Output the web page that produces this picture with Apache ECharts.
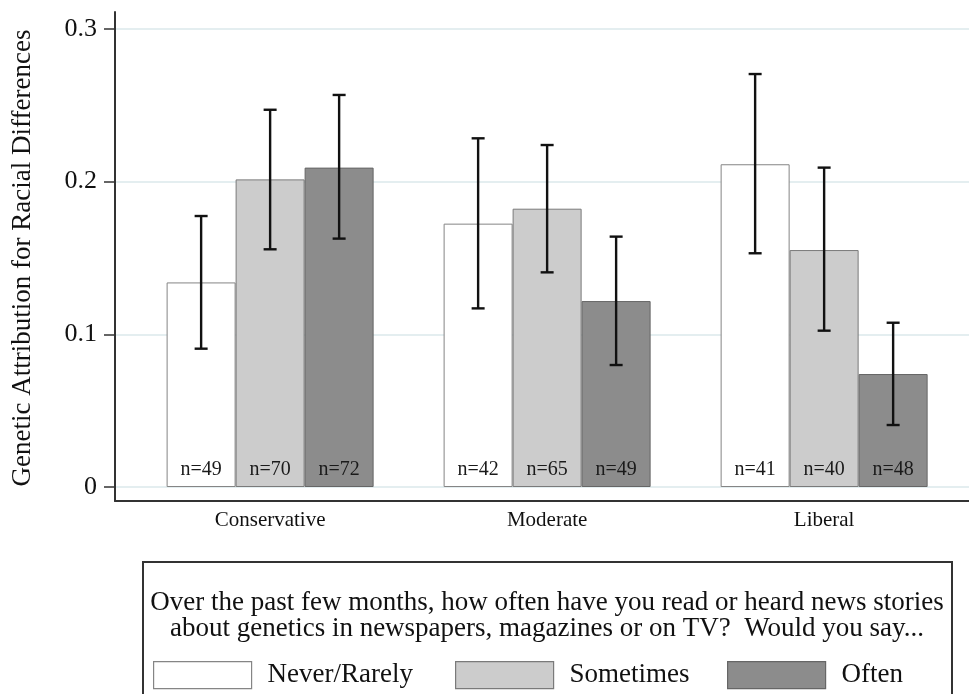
<!DOCTYPE html>
<html>
<head>
<meta charset="utf-8">
<script src="https://cdn.jsdelivr.net/npm/echarts@6/dist/echarts.min.js"></script>
<style>html,body{margin:0;padding:0;background:#fff}#c{width:969px;height:694px}</style>
</head>
<body>
<div id="c"></div>
<script>
// ---- data ----
var categories = ['Conservative', 'Moderate', 'Liberal'];
var groups = ['Never/Rarely', 'Sometimes', 'Often'];
var yTicks = [0, 0.1, 0.2, 0.3];

var neverMean = [0.134, 0.1725, 0.2114];
var neverLow  = [0.0906, 0.1170, 0.1531];
var neverHigh = [0.1775, 0.2284, 0.2705];
var neverN    = [49, 42, 41];

var sometimesMean = [0.2015, 0.1823, 0.1552];
var sometimesLow  = [0.1557, 0.1406, 0.1024];
var sometimesHigh = [0.2471, 0.2240, 0.2092];
var sometimesN    = [70, 65, 40];

var oftenMean = [0.2092, 0.1218, 0.0740];
var oftenLow  = [0.1627, 0.0799, 0.0406];
var oftenHigh = [0.2568, 0.1640, 0.1076];
var oftenN    = [72, 49, 48];

var questionText = 'Over the past few months, how often have you read or heard news stories\nabout genetics in newspapers, magazines or on TV?  Would you say...';
var yTitle = 'Genetic Attribution for Racial Differences';

// ---- styling ----
var FONT = "'Liberation Serif', 'DejaVu Serif', serif";
var BAR_W = 69;
var X_MIN = 0.44, X_MAX = 3.523;
var fills = ['#ffffff', '#cccccc', '#8c8c8c'];
var borders = ['#858585', '#7a7a7a', '#666666'];

var means = [neverMean, sometimesMean, oftenMean];
var lows = [neverLow, sometimesLow, oftenLow];
var highs = [neverHigh, sometimesHigh, oftenHigh];
var ns = [neverN, sometimesN, oftenN];

var series = [];
groups.forEach(function (g, k) {
  series.push({
    name: g,
    type: 'bar',
    xAxisIndex: 0, yAxisIndex: 0,
    barWidth: BAR_W,
    barGap: '0%',
    z: 2,
    itemStyle: { color: fills[k], borderColor: borders[k], borderWidth: 1 },
    label: {
      show: true,
      position: 'insideBottom',
      distance: 7,
      fontFamily: FONT,
      fontSize: 20,
      color: '#1a1a1a',
      formatter: function (p) { return 'n=' + ns[k][p.dataIndex]; }
    },
    emphasis: { disabled: true },
    data: means[k].map(function (v, i) { return [i + 1, v]; })
  });
});

groups.forEach(function (g, k) {
  series.push({
    name: g + ' CI',
    type: 'custom',
    xAxisIndex: 0, yAxisIndex: 0,
    z: 5,
    silent: true,
    renderItem: function (params, api) {
      var x = api.value(0), lo = api.value(1), hi = api.value(2);
      var off = (k - 1) * BAR_W;
      var pHi = api.coord([x, hi]);
      var pLo = api.coord([x, lo]);
      var cx = pHi[0] + off;
      var capHalf = 6.5;
      var st = { stroke: '#111', lineWidth: 2.4, fill: null };
      return {
        type: 'group',
        children: [
          { type: 'line', shape: { x1: cx, y1: pHi[1], x2: cx, y2: pLo[1] }, style: st },
          { type: 'line', shape: { x1: cx - capHalf, y1: pHi[1], x2: cx + capHalf, y2: pHi[1] }, style: st },
          { type: 'line', shape: { x1: cx - capHalf, y1: pLo[1], x2: cx + capHalf, y2: pLo[1] }, style: st }
        ]
      };
    },
    data: lows[k].map(function (lo, i) { return [i + 1, lo, highs[k][i]]; })
  });
});

function legendFor(k, left) {
  return {
    data: [groups[k]],
    left: left, top: 661,
    padding: 0,
    itemWidth: 98, itemHeight: 27,
    selectedMode: false,
    icon: 'rect',
    itemStyle: { borderColor: borders[k], borderWidth: 1.2 },
    textStyle: { fontFamily: FONT, fontSize: 27, color: '#111', padding: [3, 0, 0, 11] }
  };
}

var chart = echarts.init(document.getElementById('c'), null, { renderer: 'canvas' });
chart.setOption({
  animation: false,
  backgroundColor: '#ffffff',
  grid: [
    { left: 115, right: 0, top: 29, bottom: 694 - 487 },
    { left: 115, right: 0, top: 12, bottom: 694 - 501 }
  ],
  xAxis: [
    { type: 'value', gridIndex: 0, min: X_MIN, max: X_MAX, show: false },
    {
      type: 'value', gridIndex: 1, min: X_MIN, max: X_MAX,
      axisLine: { show: true, lineStyle: { color: '#333', width: 2 } },
      axisTick: { show: false },
      splitLine: { show: false },
      axisLabel: {
        customValues: [1, 2, 3],
        margin: 9,
        fontFamily: FONT, fontSize: 21, color: '#111',
        formatter: function (v) { return categories[Math.round(v) - 1] || ''; }
      }
    }
  ],
  yAxis: [
    {
      type: 'value', gridIndex: 0, min: 0, max: 0.3, interval: 0.1,
      axisLine: { show: false },
      axisTick: { show: true, length: 11, lineStyle: { color: '#333', width: 1.5 } },
      axisLabel: {
        margin: 18, fontFamily: FONT, fontSize: 26, color: '#111',
        formatter: function (v) {
          var t = yTicks.filter(function (q) { return Math.abs(q - v) < 1e-9; });
          return t.length ? String(t[0]) : '';
        }
      },
      splitLine: { show: true, lineStyle: { color: '#e4eef0', width: 2 } },
      name: yTitle,
      nameLocation: 'middle',
      nameGap: 79,
      nameTextStyle: { fontFamily: FONT, fontSize: 27, color: '#111' }
    },
    {
      type: 'value', gridIndex: 1, min: 0, max: 1,
      axisLine: { show: true, lineStyle: { color: '#333', width: 2 } },
      axisTick: { show: false },
      axisLabel: { show: false },
      splitLine: { show: false }
    }
  ],
  legend: [legendFor(0, 153), legendFor(1, 455), legendFor(2, 727)],
  graphic: [
    {
      type: 'rect',
      shape: { x: 143, y: 562, width: 809, height: 200 },
      style: { fill: null, stroke: '#333', lineWidth: 2 },
      z: 10
    },
    {
      type: 'text',
      x: 547, y: 590,
      style: {
        text: questionText,
        fontFamily: FONT, fontSize: 27, lineHeight: 26,
        fill: '#111',
        textAlign: 'center', textVerticalAlign: 'top'
      },
      z: 10
    }
  ],
  series: series
});
</script>
</body>
</html>
